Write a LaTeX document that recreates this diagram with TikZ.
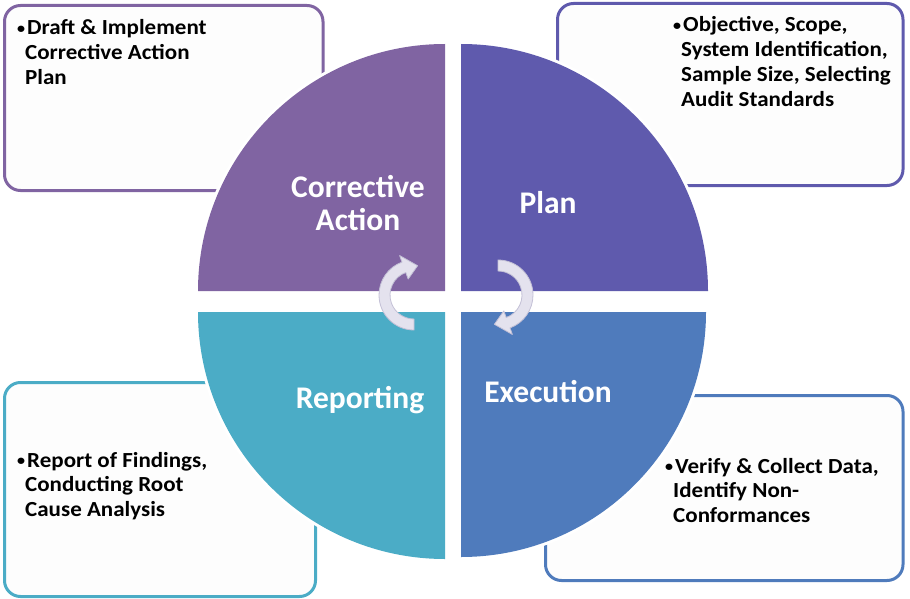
\documentclass[tikz,border=0pt]{standalone}
\usepackage{fontspec}
\setmainfont{Carlito}
\newfontfamily\boxfont[FakeStretch=1.07]{Carlito}
\newcommand{\mybullet}{\makebox[10pt][l]{\raisebox{1.2pt}{\fontsize{15}{15}\selectfont •}}}
\definecolor{cpurple}{HTML}{8064A2}
\definecolor{cindigo}{HTML}{5F5AAD}
\definecolor{cblue}{HTML}{4F7BBC}
\definecolor{cteal}{HTML}{4BACC6}
\definecolor{boxfill}{HTML}{FDFDFD}
\definecolor{arrowfill}{HTML}{E4E2EE}
\definecolor{arrowline}{HTML}{C3C0D6}
\tikzset{
  infobox/.style={line width=3pt, rounded corners=16pt, fill=boxfill},
  quad/.style={preaction={draw=white, line width=6pt}},
  qlabel/.style={anchor=base, text=white, inner sep=0pt, font=\fontsize{31.5}{33}\selectfont\bfseries},
  btext/.style={anchor=base west, inner sep=0pt, font=\boxfont\fontsize{21.5}{25}\selectfont\bfseries},
  cycarrow/.style={fill=arrowfill, draw=arrowline, line width=0.8pt, line join=round}
}
\begin{document}
\begin{tikzpicture}[x=1pt,y=-1pt]
\useasboundingbox (0,0) rectangle (910,599);
% boxes
\draw[infobox, draw=cpurple] (4.5,5.5) rectangle (323,190.5);
\draw[infobox, draw=cindigo] (557.5,3.5) rectangle (903,185.5);
\draw[infobox, draw=cteal] (4.5,382.5) rectangle (315.5,596.5);
\draw[infobox, draw=cblue] (545.5,395.5) rectangle (903,580.5);
% quadrants
\path[quad, fill=cpurple] (445,291) -- (198,291) arc[start angle=180, end angle=270, radius=247] -- cycle;
\path[quad, fill=cindigo] (461,291) -- (461,44) arc[start angle=270, end angle=360, radius=247] -- cycle;
\path[quad, fill=cblue] (461,312) -- (706,312) arc[start angle=0, end angle=90, radius=245] -- cycle;
\path[quad, fill=cteal] (445,312) -- (445,559) arc[start angle=90, end angle=180, radius=247] -- cycle;
% cycle arrows
\begin{scope}[shift={(414,295)}]
\path[cycarrow] (90:35) arc[start angle=90, end angle=250, radius=35] -- (250:42) -- (277:29.5) -- (250:17) -- (250:24) arc[start angle=250, end angle=90, radius=24] -- cycle;
\end{scope}
\begin{scope}[shift={(498,295)}]
\path[cycarrow] (270:35) arc[start angle=270, end angle=430, radius=35] -- (430:42) -- (457:29.5) -- (430:17) -- (430:24) arc[start angle=430, end angle=270, radius=24] -- cycle;
\end{scope}
% quadrant labels
\node[qlabel] (ca1) at (358,197) {Corrective};
\node[qlabel] (ca2) at (358,230) {Action};
\node[qlabel] (plan) at (548,213) {Plan};
\node[qlabel] (rep) at (360,408) {Reporting};
\node[qlabel] (exe) at (548,402) {Execution};
% box texts
\node[btext] (tl1) at (17,35) {\mybullet Draft \& Implement};
\node[btext] (tl2) at (25,60) {Corrective Action};
\node[btext] (tl3) at (25,85) {Plan};
\node[btext] (tr1) at (673,32) {\mybullet Objective, Scope,};
\node[btext] (tr2) at (681,57) {System Identification,};
\node[btext] (tr3) at (681,82) {Sample Size, Selecting};
\node[btext] (tr4) at (681,107) {Audit Standards};
\node[btext] (bl1) at (17,467) {\mybullet Report of Findings,};
\node[btext] (bl2) at (25,491) {Conducting Root};
\node[btext] (bl3) at (25,516) {Cause Analysis};
\node[btext] (br1) at (665,473) {\mybullet Verify \& Collect Data,};
\node[btext] (br2) at (673,497) {Identify Non-};
\node[btext] (br3) at (673,522) {Conformances};
\end{tikzpicture}
\end{document}
